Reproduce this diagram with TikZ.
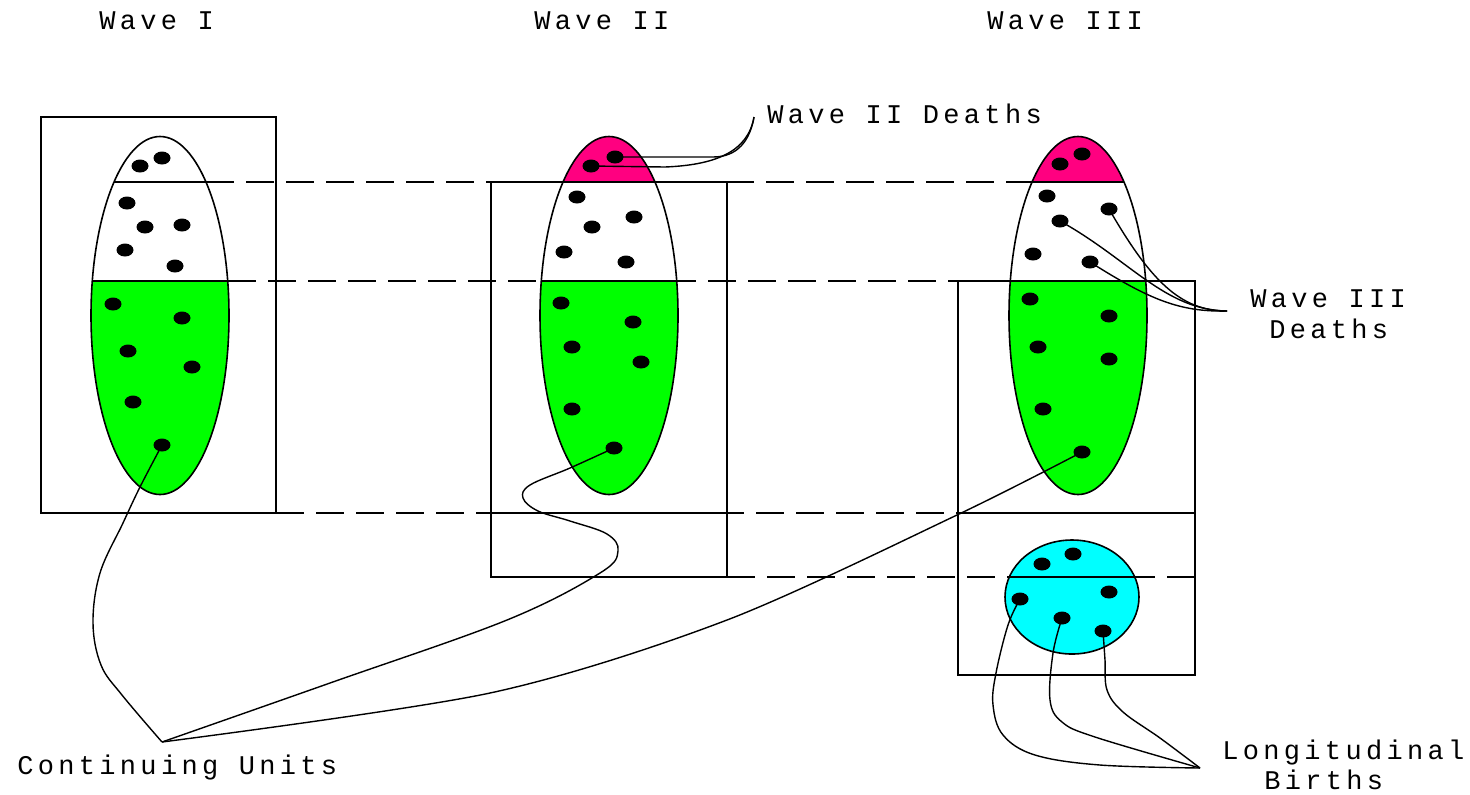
\documentclass[tikz,border=0pt]{standalone}
\usepackage{fontspec}
\newfontfamily\labelfont{Liberation Mono}[LetterSpace=16]
\usetikzlibrary{shapes.geometric}

\definecolor{ugreen}{RGB}{0,255,0}
\definecolor{upink}{RGB}{255,0,128}
\definecolor{ucyan}{RGB}{0,255,255}

\begin{document}
\begin{tikzpicture}[x=0.5pt,y=-0.5pt,
  frame/.style={draw=black, line width=1pt},
  guide/.style={draw=black, line width=1pt, dash pattern=on 14pt off 6pt},
  outline/.style={draw=black, line width=0.8pt},
  unit/.style={ellipse, fill=black, inner sep=0pt, minimum width=8.5pt, minimum height=6.5pt},
  link/.style={draw=black, line width=0.7pt},
  lbl/.style={anchor=base west, inner sep=0pt, font=\labelfont\fontsize{13.5pt}{16pt}\selectfont}]

\useasboundingbox (0,0) rectangle (1470,794);

% --- coloured fills of the sample ellipses ---
\begin{scope}
  \clip (0,281) rectangle (1470,794);
  \fill[ugreen] (160,315.5) ellipse [x radius=69, y radius=179];
  \fill[ugreen] (609,315.5) ellipse [x radius=69, y radius=179];
  \fill[ugreen] (1078,315.5) ellipse [x radius=69, y radius=179];
\end{scope}
\begin{scope}
  \clip (0,0) rectangle (1470,182);
  \fill[upink] (609,315.5) ellipse [x radius=69, y radius=179];
  \fill[upink] (1078,315.5) ellipse [x radius=69, y radius=179];
\end{scope}
\fill[ucyan] (1072,597) ellipse [x radius=67, y radius=57];

% --- dashed guide lines between waves ---
\draw[guide] (206,182) -- (1032,182);
\draw[guide] (228,281) -- (958,281);
\draw[guide] (276,513) -- (958,513);
\draw[guide] (727,577) -- (1195,577);

% --- wave frames ---
\draw[frame] (41,117) rectangle (276,513);
\draw[frame] (491,182) rectangle (727,577);
\draw[frame] (491,513) -- (727,513);
\draw[frame] (958,281) rectangle (1195,675);
\draw[frame] (958,513) -- (1195,513);

% --- ellipse outlines and inner divisions ---
\foreach \cx in {160,609,1078}{
  \draw[outline] (\cx,315.5) ellipse [x radius=69, y radius=179];
  \begin{scope}
    \clip (\cx,315.5) ellipse [x radius=69, y radius=179];
    \draw[outline] (0,182) -- (1470,182);
    \draw[outline] (0,281) -- (1470,281);
  \end{scope}
}
\draw[outline] (1072,597) ellipse [x radius=67, y radius=57];
\begin{scope}
  \clip (1072,597) ellipse [x radius=67, y radius=57];
  \draw[outline] (0,577) -- (1470,577);
\end{scope}

% --- units: wave I ---
\foreach \x/\y [count=\i] in {140/166,162/158,127/203,145/227,182/225,125/250,175/266,
                              113/304,182/318,128/351,192/367,133/402}
  \node[unit] (p\i) at (\x,\y) {};
\node[unit] (c1) at (162,445) {};

% --- units: wave II ---
\foreach \x/\y [count=\i] in {577/197,592/227,634/217,564/252,626/262,
                              561/303,633/322,572/347,641/362,572/409}
  \node[unit] (q\i) at (\x,\y) {};
\node[unit] (d2a) at (615,157) {};
\node[unit] (d2b) at (591,166) {};
\node[unit] (c2) at (614,448) {};

% --- units: wave III ---
\foreach \x/\y [count=\i] in {1060/164,1082/154,1047/196,1033/254,
                              1030/299,1109/316,1038/347,1109/359,1043/409,
                              1073/554,1042/564,1109/592}
  \node[unit] (r\i) at (\x,\y) {};
\node[unit] (d3a) at (1109,209) {};
\node[unit] (d3b) at (1060,221) {};
\node[unit] (d3c) at (1090,262) {};
\node[unit] (c3) at (1082,452) {};
\node[unit] (b1) at (1020,599) {};
\node[unit] (b2) at (1062,618) {};
\node[unit] (b3) at (1103,631) {};

% --- connector meeting points ---
\coordinate (cu) at (162,742);
\coordinate (w2d) at (754,117);
\coordinate (w3d) at (1227,311);
\coordinate (lb) at (1200,768);

% --- continuing units ---
\draw[link] plot[smooth, tension=0.6] coordinates {(c1.center) (140,487) (123,523) (100,573) (93,623) (101,665) (122,695) (cu)};
\draw[link] plot[smooth, tension=0.6] coordinates {(c2.center) (570,468) (530,485) (523,498) (538,511) (570,521) (607,534) (618,551) (600,573) (507,620) (330,683) (cu)};
\draw[link] plot[smooth, tension=0.5] coordinates {(c3.center) (957,515) (727,620) (490,693) (cu)};

% --- wave II deaths ---
\draw[link] (d2a.center) -- (713,157) .. controls (738,157) and (750,140) .. (w2d);
\draw[link] (d2b.center) -- (665,167) .. controls (715,165) and (748,152) .. (w2d);

% --- wave III deaths ---
\draw[link] (d3a.center) .. controls (1150,280) and (1180,311) .. (w3d);
\draw[link] (d3b.center) .. controls (1130,260) and (1165,310) .. (w3d);
\draw[link] (d3c.center) .. controls (1150,300) and (1180,312) .. (w3d);

% --- longitudinal births ---
\draw[link] plot[smooth, tension=0.6] coordinates {(b1.center) (1008,625) (996,673) (993,705) (1003,735) (1035,755) (1100,765) (lb)};
\draw[link] plot[smooth, tension=0.6] coordinates {(b2.center) (1053,653) (1050,700) (1062,722) (1095,737) (lb)};
\draw[link] plot[smooth, tension=0.6] coordinates {(b3.center) (1105,660) (1107,690) (1123,712) (1160,738) (lb)};

% --- labels ---
\node[lbl] (t1) at (99,29) {Wave I};
\node[lbl] (t2) at (534,29) {Wave II};
\node[lbl] (t3) at (987,29) {Wave III};
\node[lbl] (t4) at (767,123) {Wave II Deaths};
\node[lbl] (t5) at (1250,307) {Wave III};
\node[lbl] (t6) at (1269,338) {Deaths};
\node[lbl] (t7) at (17,774) {Continuing Units};
\node[lbl] (t8) at (1222,759) {Longitudinal};
\node[lbl] (t9) at (1264,789) {Births};
\end{tikzpicture}
\end{document}
